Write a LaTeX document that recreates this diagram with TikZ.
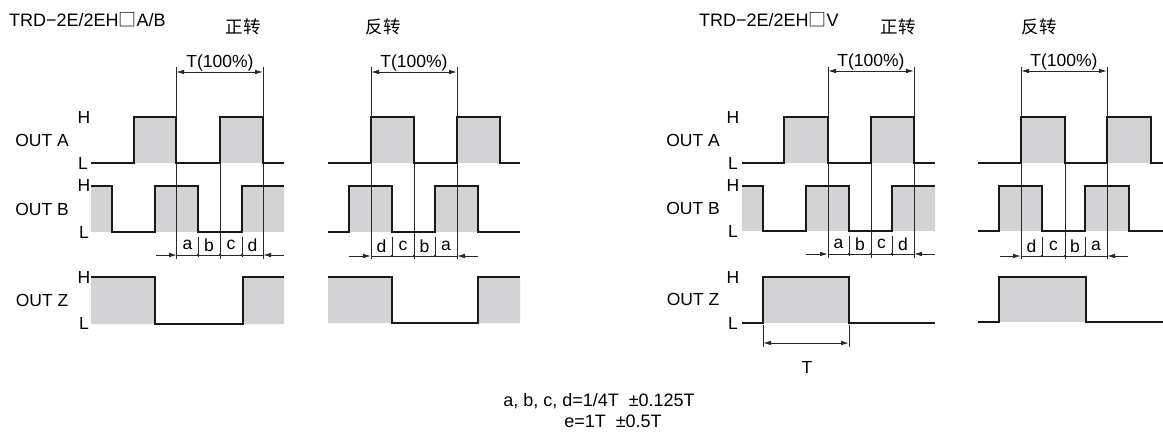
\documentclass[tikz,border=0pt]{standalone}
\usepackage{fontspec}
\setmainfont{Liberation Sans}
\newfontfamily\cjk{Noto Sans CJK SC}
\usetikzlibrary{arrows.meta}
\definecolor{wgray}{RGB}{211,211,213}
\definecolor{lgray}{RGB}{40,40,40}
\tikzset{
  wave/.style={line width=2.9pt, line join=miter, draw=black!90},
  hi/.style={fill=wgray, draw=none},
  thinl/.style={line width=0.8pt, draw=lgray},
  dimarr/.style={line width=0.8pt, draw=lgray, -{Latex[length=8pt,width=4.5pt]}},
  dimboth/.style={line width=0.8pt, draw=lgray, {Latex[length=8pt,width=4.5pt]}-{Latex[length=8pt,width=4.5pt]}},
  lab/.style={font=\fontsize{17.5}{20}\selectfont, inner sep=0pt},
  note/.style={font=\fontsize{18}{21}\selectfont, inner sep=0pt},
  ttl/.style={font=\fontsize{18}{21}\selectfont, inner sep=0pt},
  cjkl/.style={font=\cjk\fontsize{17.5}{20}\selectfont, inner sep=0pt},
  dot/.style={fill=lgray, draw=none}
}
\begin{document}
\begin{tikzpicture}[x=1pt,y=-1pt]
\useasboundingbox (0,0) rectangle (1163,433);

% ---------------- titles
\node[ttl, anchor=west] (t1) at (9,20) {TRD−2E/2EH{\cjk □}A/B};
\node[cjkl] (z1) at (243,27) {正转};
\node[cjkl] (f1) at (383,27) {反转};
\node[ttl, anchor=west] (t2) at (699,20) {TRD−2E/2EH{\cjk □}V};
\node[cjkl] (z2) at (898,27) {正转};
\node[cjkl] (f2) at (1039,27) {反转};

% ---------------- left labels
\node[lab] (la) at (42,140) {OUT A};
\node[lab] (lb) at (42,209) {OUT B};
\node[lab] (lz) at (42,300) {OUT Z};
\node[lab] (lah) at (84,117) {H};
\node[lab] (lal) at (83,163) {L};
\node[lab] (lbh) at (84,185) {H};
\node[lab] (lbl) at (84,232) {L};
\node[lab] (lzh) at (84,277) {H};
\node[lab] (lzl) at (84,323) {L};

\node[lab] (ra) at (693,140) {OUT A};
\node[lab] (rb) at (693,208) {OUT B};
\node[lab] (rz) at (693,299) {OUT Z};
\node[lab] (rah) at (733,117) {H};
\node[lab] (ral) at (733,163) {L};
\node[lab] (rbh) at (733,185) {H};
\node[lab] (rbl) at (733,231) {L};
\node[lab] (rzh) at (733,277) {H};
\node[lab] (rzl) at (733,323) {L};

% =============== Panel L1 (left, forward)
\fill[hi] (134,117) rectangle (176,163) (220,117) rectangle (263,163);
\fill[hi] (91,186) rectangle (112,232) (155,186) rectangle (198,232) (242,186) rectangle (284,232);
\fill[hi] (91,277) rectangle (155,324) (243,277) rectangle (284,324);
\draw[thinl] (176,67) -- (176,259) (263,67) -- (263,259) (220,163) -- (220,259);
\draw[thinl] (198,237) -- (198,257) (242,237) -- (242,257);
\draw[wave] (91,163) -- (134,163) -- (134,117) -- (176,117) -- (176,163) -- (220,163) -- (220,117) -- (263,117) -- (263,163) -- (284,163);
\draw[wave] (91,186) -- (112,186) -- (112,232) -- (155,232) -- (155,186) -- (198,186) -- (198,232) -- (242,232) -- (242,186) -- (284,186);
\draw[wave] (91,277) -- (155,277) -- (155,324) -- (243,324) -- (243,277) -- (284,277);
\coordinate (l1t1) at (176,72); \coordinate (l1t2) at (263,72);
\draw[dimboth] (l1t1) -- (l1t2);
\node[lab, anchor=south] (l1T) at (220,71) {T(100\%)};
\coordinate (l1d0) at (156,255); \coordinate (l1d1) at (177,255);
\coordinate (l1d2) at (284,255); \coordinate (l1d3) at (263,255);
\draw[thinl] (l1d1) -- (l1d3);
\draw[dimarr] (l1d0) -- (l1d1);
\draw[dimarr] (l1d2) -- (l1d3);
\fill[dot] (198,255) circle (1.3) (220,255) circle (1.3) (242,255) circle (1.3);
\node[lab] (l1a) at (187.5,245) {a};
\node[lab] (l1b) at (209,245) {b};
\node[lab] (l1c) at (231,245) {c};
\node[lab] (l1d) at (252.5,245) {d};

% =============== Panel L2 (left, reverse)
\fill[hi] (371,117) rectangle (414,163) (457,117) rectangle (500,163);
\fill[hi] (349,186) rectangle (392,232) (435,186) rectangle (478,232);
\fill[hi] (328,277) rectangle (392,323) (478,277) rectangle (520,323);
\draw[thinl] (371,67) -- (371,259) (457,67) -- (457,259) (414,163) -- (414,259);
\draw[thinl] (392,237) -- (392,257) (435,237) -- (435,257);
\draw[wave] (328,163) -- (371,163) -- (371,117) -- (414,117) -- (414,163) -- (457,163) -- (457,117) -- (500,117) -- (500,163) -- (520,163);
\draw[wave] (328,232) -- (349,232) -- (349,186) -- (392,186) -- (392,232) -- (435,232) -- (435,186) -- (478,186) -- (478,232) -- (520,232);
\draw[wave] (328,277) -- (392,277) -- (392,323) -- (478,323) -- (478,277) -- (520,277);
\coordinate (l2t1) at (371,72); \coordinate (l2t2) at (457,72);
\draw[dimboth] (l2t1) -- (l2t2);
\node[lab, anchor=south] (l2T) at (414,71) {T(100\%)};
\coordinate (l2d0) at (349,256); \coordinate (l2d1) at (371,256);
\coordinate (l2d2) at (478,256); \coordinate (l2d3) at (457,256);
\draw[thinl] (l2d1) -- (l2d3);
\draw[dimarr] (l2d0) -- (l2d1);
\draw[dimarr] (l2d2) -- (l2d3);
\fill[dot] (392,256) circle (1.3) (414,256) circle (1.3) (435,256) circle (1.3);
\node[lab] (l2a) at (381.5,246) {d};
\node[lab] (l2b) at (403,246) {c};
\node[lab] (l2c) at (424.5,246) {b};
\node[lab] (l2d) at (446,246) {a};

% =============== Panel R1 (right, forward)
\fill[hi] (784,117) rectangle (828,163) (871,117) rectangle (914,163);
\fill[hi] (742,186) rectangle (763,231) (806,186) rectangle (849,231) (892,186) rectangle (935,231);
\fill[hi] (763,277) rectangle (849,323);
\draw[thinl] (828,67) -- (828,258) (914,67) -- (914,258) (871,163) -- (871,258);
\draw[thinl] (849,236) -- (849,256) (892,236) -- (892,256);
\draw[thinl] (763,325) -- (763,347) (849,325) -- (849,347);
\draw[wave] (742,163) -- (784,163) -- (784,117) -- (828,117) -- (828,163) -- (871,163) -- (871,117) -- (914,117) -- (914,163) -- (935,163);
\draw[wave] (742,186) -- (763,186) -- (763,231) -- (806,231) -- (806,186) -- (849,186) -- (849,231) -- (892,231) -- (892,186) -- (935,186);
\draw[wave] (742,323) -- (763,323) -- (763,277) -- (849,277) -- (849,323) -- (935,323);
\coordinate (r1t1) at (828,71); \coordinate (r1t2) at (914,71);
\draw[dimboth] (r1t1) -- (r1t2);
\node[lab, anchor=south] (r1T) at (871,70) {T(100\%)};
\coordinate (r1d0) at (806,254); \coordinate (r1d1) at (828,254);
\coordinate (r1d2) at (935,254); \coordinate (r1d3) at (914,254);
\draw[thinl] (r1d1) -- (r1d3);
\draw[dimarr] (r1d0) -- (r1d1);
\draw[dimarr] (r1d2) -- (r1d3);
\fill[dot] (849,254) circle (1.3) (871,254) circle (1.3) (892,254) circle (1.3);
\node[lab] (r1a) at (838.5,244) {a};
\node[lab] (r1b) at (860,244) {b};
\node[lab] (r1c) at (881.5,244) {c};
\node[lab] (r1d) at (903,244) {d};
\coordinate (r1z1) at (763,343); \coordinate (r1z2) at (849,343);
\draw[dimboth] (r1z1) -- (r1z2);
\node[lab] (r1zT) at (807,367) {T};

% =============== Panel R2 (right, reverse)
\fill[hi] (1021,117) rectangle (1065,163) (1107,117) rectangle (1151,163);
\fill[hi] (999,186) rectangle (1042,231) (1085,186) rectangle (1129,231);
\fill[hi] (999,277) rectangle (1086,322);
\draw[thinl] (1021,67) -- (1021,259) (1107,67) -- (1107,259) (1065,163) -- (1065,259);
\draw[thinl] (1042,237) -- (1042,257) (1085,237) -- (1085,257);
\draw[wave] (978,163) -- (1021,163) -- (1021,117) -- (1065,117) -- (1065,163) -- (1107,163) -- (1107,117) -- (1151,117) -- (1151,163) -- (1163,163);
\draw[wave] (978,231) -- (999,231) -- (999,186) -- (1042,186) -- (1042,231) -- (1085,231) -- (1085,186) -- (1129,186) -- (1129,231) -- (1163,231);
\draw[wave] (978,322) -- (999,322) -- (999,277) -- (1086,277) -- (1086,322) -- (1163,322);
\coordinate (r2t1) at (1021,71); \coordinate (r2t2) at (1107,71);
\draw[dimboth] (r2t1) -- (r2t2);
\node[lab, anchor=south] (r2T) at (1064,70) {T(100\%)};
\coordinate (r2d0) at (1000,256); \coordinate (r2d1) at (1021,256);
\coordinate (r2d2) at (1128,256); \coordinate (r2d3) at (1107,256);
\draw[thinl] (r2d1) -- (r2d3);
\draw[dimarr] (r2d0) -- (r2d1);
\draw[dimarr] (r2d2) -- (r2d3);
\fill[dot] (1042,256) circle (1.3) (1065,256) circle (1.3) (1085,256) circle (1.3);
\node[lab] (r2a) at (1031.5,246) {d};
\node[lab] (r2b) at (1053.5,246) {c};
\node[lab] (r2c) at (1075,246) {b};
\node[lab] (r2d) at (1096,246) {a};

% ---------------- footnote
\node[note] (n1) at (599,401) {a, b, c, d=1/4T\ \ ±0.125T};
\node[note] (n2) at (613,421) {e=1T\ \ ±0.5T};
\end{tikzpicture}
\end{document}
